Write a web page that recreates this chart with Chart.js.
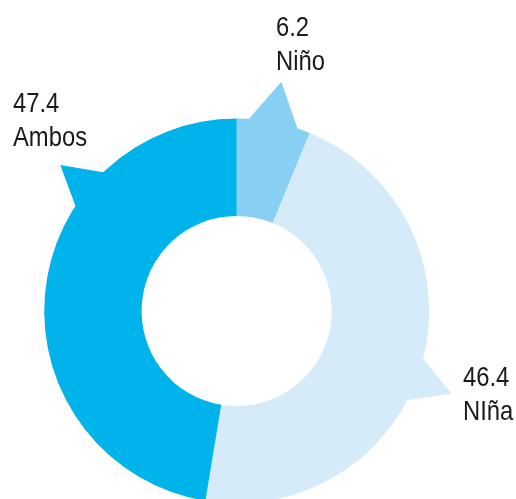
<!DOCTYPE html>
<html>
<head>
<meta charset="utf-8">
<script src="https://cdn.jsdelivr.net/npm/chart.js@4"></script>
<style>
html,body{margin:0;padding:0;background:#fff;overflow:hidden;width:516px;height:499px;}
canvas{display:block;}
</style>
</head>
<body>
<canvas id="c" width="516" height="540"></canvas>
<script>
const categories = ["Niño", "NIña", "Ambos"];
const values = [6.2, 46.4, 47.4];
const valueLabels = ["6.2", "46.4", "47.4"];
const colors = ["#87D0F4", "#D5EBFA", "#00B3EA"];

// callout settings (degrees clockwise from 12 o'clock)
const calloutAngles = [11.0, 111.0, 309.6];
const calloutHalfWidths = [7.4, 6.6, 6.5];
const calloutLengths = [41, 37.5, 36.5];
const labelPositions = [[276, 36], [463, 386], [13, 112]];

const calloutPlugin = {
  id: 'callouts',
  afterDatasetsDraw(chart) {
    const ctx = chart.ctx;
    const meta = chart.getDatasetMeta(0);
    meta.data.forEach((arc, i) => {
      const cx = arc.x, cy = arc.y, R = arc.outerRadius;
      const toRad = d => (d - 90) * Math.PI / 180;
      const a = calloutAngles[i], hw = calloutHalfWidths[i];
      const a1 = toRad(a - hw), a2 = toRad(a + hw), at = toRad(a);
      const rb = R - 3;
      const rt = R + calloutLengths[i];
      ctx.save();
      ctx.fillStyle = colors[i];
      ctx.beginPath();
      ctx.moveTo(cx + rb * Math.cos(a1), cy + rb * Math.sin(a1));
      ctx.lineTo(cx + R * Math.cos(a1), cy + R * Math.sin(a1));
      ctx.lineTo(cx + rt * Math.cos(at), cy + rt * Math.sin(at));
      ctx.lineTo(cx + R * Math.cos(a2), cy + R * Math.sin(a2));
      ctx.lineTo(cx + rb * Math.cos(a2), cy + rb * Math.sin(a2));
      ctx.closePath();
      ctx.fill();
      ctx.restore();
    });
    ctx.save();
    ctx.fillStyle = '#1a1a1a';
    ctx.font = '28px "Liberation Sans", Arial, sans-serif';
    ctx.textAlign = 'left';
    ctx.textBaseline = 'alphabetic';
    categories.forEach((c, i) => {
      const [x, y] = labelPositions[i];
      ctx.save();
      ctx.translate(x, y);
      ctx.scale(0.85, 1);
      ctx.fillText(valueLabels[i], 0, 0);
      ctx.fillText(c, 0, 34);
      ctx.restore();
    });
    ctx.restore();
  }
};

new Chart(document.getElementById('c'), {
  type: 'doughnut',
  data: {
    labels: categories,
    datasets: [{
      data: values,
      backgroundColor: colors,
      borderWidth: 0,
      hoverOffset: 0
    }]
  },
  options: {
    responsive: false,
    animation: false,
    cutout: '49.4%',
    rotation: 0,
    layout: { padding: { left: 44.2, right: 86.8, top: 118.5, bottom: 36.5 } },
    plugins: { legend: { display: false }, tooltip: { enabled: false } },
    events: []
  },
  plugins: [calloutPlugin]
});
</script>
</body>
</html>
